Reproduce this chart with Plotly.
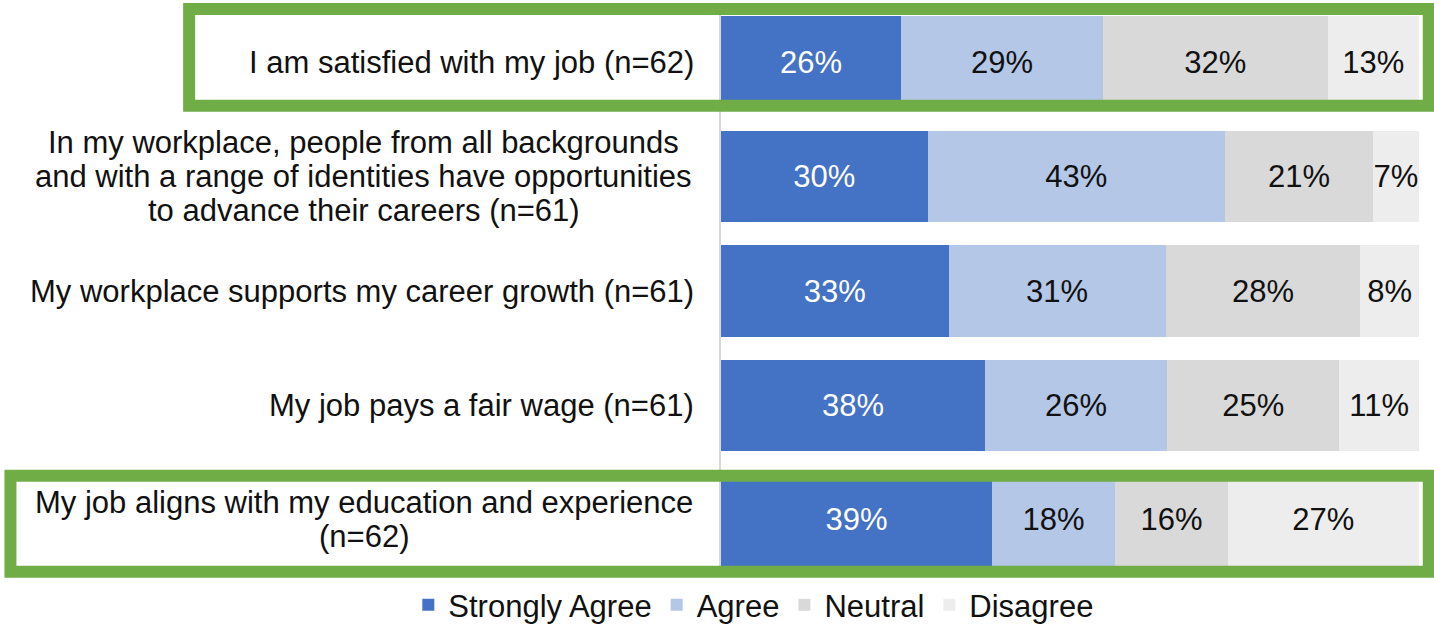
import plotly.graph_objects as go

categories = [
    "I am satisfied with my job (n=62)",
    "In my workplace, people from all backgrounds<br>and with a range of identities have opportunities<br>to advance their careers (n=61)",
    "My workplace supports my career growth (n=61)",
    "My job pays a fair wage (n=61)",
    "My job aligns with my education and experience<br>(n=62)",
]
series_names = ["Strongly Agree", "Agree", "Neutral", "Disagree"]
strongly_agree = [25.8, 29.6, 32.6, 37.8, 38.8]
agree = [28.9, 42.6, 31.1, 26.1, 17.7]
neutral = [32.2, 21.2, 27.9, 24.7, 16.1]
disagree = [13.1, 6.6, 8.4, 11.4, 27.4]
values = [strongly_agree, agree, neutral, disagree]
colors = ["#4472C4", "#B4C7E7", "#D9D9D9", "#EDEDED"]
text_colors = ["#FFFFFF", "#111111", "#111111", "#111111"]

FONT = "Liberation Sans, Arial, sans-serif"
FS = 31
ykeys = list(range(len(categories)))

fig = go.Figure()
for name, vals, c, tc in zip(series_names, values, colors, text_colors):
    fig.add_trace(go.Bar(
        y=ykeys, x=vals, name=name, orientation="h",
        marker=dict(color=c, line=dict(width=0)),
        texttemplate="%{x:.0f}%", textposition="inside", textangle=0,
        insidetextanchor="middle", constraintext="none",
        textfont=dict(color=tc, size=FS, family=FONT),
        hoverinfo="skip",
    ))

# category labels (Excel-style: block right-aligned, lines centred, tight spacing)
LINE = 34
for i, cat in enumerate(categories):
    lines = cat.split("<br>")
    n = len(lines)
    for j, ln in enumerate(lines):
        shift = ((n - 1) / 2 - j) * LINE
        if n == 1:
            x, xa = -0.0358, "right"
        else:
            x, xa = -0.5115, "center"
        fig.add_annotation(
            x=x, xref="paper", y=i, yref="y", yshift=shift,
            text=ln, showarrow=False, xanchor=xa, yanchor="middle",
            font=dict(size=FS, family=FONT, color="#111111"),
        )

green = "#70AD47"
fig.add_shape(type="rect", xref="paper", yref="paper",
              x0=-0.762, x1=1.014, y0=0.824, y1=0.993,
              line=dict(color=green, width=12), fillcolor="rgba(0,0,0,0)", layer="above")
fig.add_shape(type="rect", xref="paper", yref="paper",
              x0=-1.018, x1=1.014, y0=0.009, y1=0.177,
              line=dict(color=green, width=12), fillcolor="rgba(0,0,0,0)", layer="above")

fig.update_layout(
    width=1434, height=627,
    margin=dict(l=721, r=15, t=5, b=50, autoexpand=False),
    barmode="stack", bargap=0.2,
    paper_bgcolor="white", plot_bgcolor="white",
    font=dict(family=FONT, size=FS, color="#111111"),
    uniformtext=dict(minsize=FS, mode="show"),
    showlegend=True,
    legend=dict(orientation="h", x=0.047, xanchor="center", y=-0.049, yanchor="middle",
                font=dict(size=FS, family=FONT, color="#111111"),
                itemwidth=30, traceorder="normal"),
    xaxis=dict(range=[0, 100], showgrid=False, zeroline=False, showticklabels=False,
               showline=False, fixedrange=True),
    yaxis=dict(range=[4.5, -0.5], showgrid=False, zeroline=False, showticklabels=False,
               showline=True, linecolor="#D9D9D9", linewidth=2, ticks="", fixedrange=True),
)

fig.write_html(
    "out.html",
    config={"displayModeBar": False},
    post_script="document.body.style.margin='0px';document.body.style.overflow='hidden';",
)
